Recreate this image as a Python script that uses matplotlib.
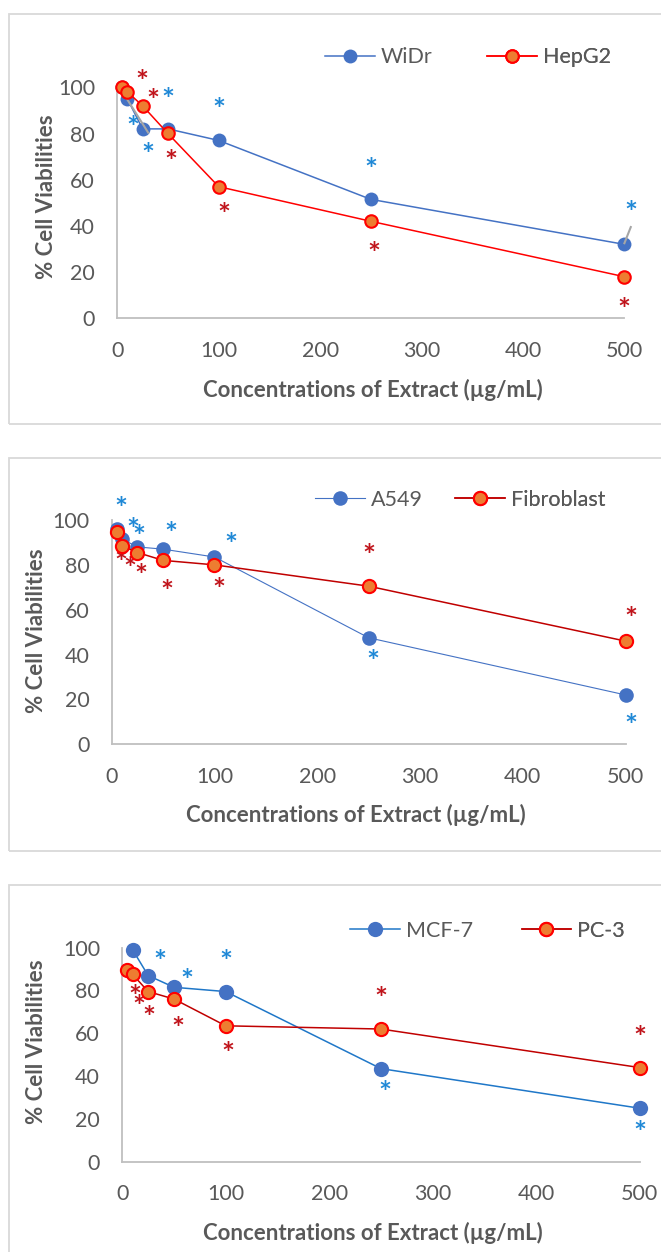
import matplotlib
matplotlib.use("Agg")
import matplotlib.pyplot as plt
import matplotlib.transforms as mtransforms
from matplotlib.patches import Rectangle

plt.rcParams['font.family'] = ['Lato', 'DejaVu Sans']

# figure size in pixels
W, H = 661, 1252

# concentrations (ug/mL)
conc = [5, 10, 25, 50, 100, 250, 500]
conc_mcf7 = [10, 25, 50, 100, 250, 500]

# % cell viabilities
widr = [100, 95, 82, 82, 77, 51.5, 32]
hepg2 = [100, 98, 92, 80, 57, 42, 18]
a549 = [96, 91.5, 88, 87, 83.5, 47.5, 22]
fibroblast = [94.5, 88.5, 85.5, 82, 80, 70.5, 46]
mcf7 = [99, 87, 81.5, 79.5, 43.5, 25]
pc3 = [89.5, 87.5, 79.5, 76, 63.5, 62, 44]

# significance stars, where they sit in data units
star1_blue_x = [15, 30.5, 50, 100, 250, 506]
star1_blue_y = [85.5, 74, 97.7, 93.3, 67.5, 49]
star1_red_x = [24, 35, 52.5, 105, 253, 500]
star1_red_y = [105.7, 97.3, 71, 48, 31.2, 7]

star2_blue_x = [9, 21, 26.5, 57.5, 116, 254.5, 505]
star2_blue_y = [108, 98.8, 95.6, 97, 92, 39.8, 11.4]
star2_red_x = [8.5, 17.8, 28.4, 53.6, 104.6, 250, 505]
star2_red_y = [84, 81.4, 78.2, 71.2, 71.9, 87.4, 59.1]

star3_blue_x = [36.6, 62.7, 100.5, 254.3, 500]
star3_blue_y = [96.6, 88, 97, 35.8, 17.1]
star3_red_x = [12, 15.8, 25.7, 53.3, 102.4, 250.2, 500]
star3_red_y = [80.2, 75.8, 70.4, 65.6, 53.7, 79.4, 61.5]

# grey leader lines seen in the first chart
leader1_x = [[10, 30.5], [500, 506.3]]
leader1_y = [[94.7, 80.4], [32.5, 39.5]]

GREY_TXT = '#595959'
BLUE_M = '#4472C4'
ORANGE_M = '#ED7D31'
RED_E = '#FF0000'
STAR_BLUE = '#1F88D6'
STAR_RED = '#C0141B'

fig = plt.figure(figsize=(W / 100, H / 100), dpi=100)


def px_axes(x0, x500, y0, y100):
    return fig.add_axes([x0 / W, 1 - y0 / H, (x500 - x0) / W, (y0 - y100) / H])


def frame_box(top, bottom):
    fig.add_artist(Rectangle((9.3 / W, 1 - bottom / H), 700 / W, (bottom - top) / H,
                             transform=fig.transFigure, fill=False,
                             ec='#D9D9D9', lw=1.3))


def stars(ax, xs, ys, color, fs=22):
    tr = mtransforms.offset_copy(ax.transData, fig=fig, y=-0.57 * fs, units='points')
    for x, y in zip(xs, ys):
        ax.text(x, y, '*', color=color, fontsize=fs, fontweight='bold',
                ha='center', va='baseline', transform=tr, clip_on=False)


def style(ax, xlab_xy, ylab_xy):
    ax.set_xlim(0, 500)
    ax.set_ylim(0, 100)
    ax.set_xticks([0, 100, 200, 300, 400, 500])
    ax.set_yticks([0, 20, 40, 60, 80, 100])
    for s in ['top', 'right']:
        ax.spines[s].set_visible(False)
    for s in ['left', 'bottom']:
        ax.spines[s].set_color('#BFBFBF')
        ax.spines[s].set_linewidth(1.3)
    ax.tick_params(length=0, labelsize=15.5, labelcolor=GREY_TXT)
    ax.tick_params(axis='y', pad=16)
    ax.tick_params(axis='x', pad=16)
    ax.set_xlabel('Concentrations of Extract (µg/mL)', fontsize=16,
                  fontweight='bold', color=GREY_TXT)
    ax.set_ylabel('% Cell Viabilities', fontsize=16, fontweight='bold', color=GREY_TXT)
    ax.xaxis.set_label_coords(*xlab_xy)
    ax.yaxis.set_label_coords(*ylab_xy)


def legends(ax, handles, labels, spots):
    for h, lab, (x, y) in zip(handles, labels, spots):
        lg = ax.legend([h], [lab], loc='center left',
                       bbox_to_anchor=(x / W, 1 - y / H), bbox_transform=fig.transFigure,
                       frameon=False, borderpad=0, borderaxespad=0, fontsize=15.5,
                       handlelength=2.3, handletextpad=0.3, labelcolor=GREY_TXT)
        ax.add_artist(lg)


# ---- chart 1: WiDr / HepG2
frame_box(14, 424.3)
ax1 = px_axes(117.2, 624.4, 318.3, 87.3)
for lx, ly in zip(leader1_x, leader1_y):
    ax1.plot(lx, ly, color='#A6A6A6', lw=1.5, zorder=4, clip_on=False)
l1, = ax1.plot(conc, widr, color=BLUE_M, lw=1.1, marker='o', ms=10,
               mfc=BLUE_M, mec=BLUE_M, mew=0, clip_on=False, zorder=3)
l2, = ax1.plot(conc, hepg2, color=RED_E, lw=1.1, marker='o', ms=9,
               mfc=ORANGE_M, mec=RED_E, mew=1.5, clip_on=False, zorder=5)
stars(ax1, star1_blue_x, star1_blue_y, STAR_BLUE)
stars(ax1, star1_red_x, star1_red_y, STAR_RED)
style(ax1, (0.505, -0.262), (-0.119, 0.525))
legends(ax1, [l1, l2], ['WiDr', 'HepG2'], [(325, 57.3), (487, 57.3)])

# ---- chart 2: A549 / Fibroblast
frame_box(457.7, 851)
ax2 = px_axes(111.7, 625.6, 744.3, 520)
l3, = ax2.plot(conc, a549, color=BLUE_M, lw=0.8, marker='o', ms=10.5,
               mfc=BLUE_M, mec=BLUE_M, mew=0, clip_on=False, zorder=3)
l4, = ax2.plot(conc, fibroblast, color='#C00000', lw=1.1, marker='o', ms=9.5,
               mfc=ORANGE_M, mec=RED_E, mew=1.5, clip_on=False, zorder=5)
stars(ax2, star2_blue_x, star2_blue_y, STAR_BLUE)
stars(ax2, star2_red_x, star2_red_y, STAR_RED)
style(ax2, (0.475, -0.266), (-0.126, 0.505))
legends(ax2, [l3, l4], ['A549', 'Fibroblast'], [(315, 500), (455, 500)])

# ---- chart 3: MCF-7 / PC-3
frame_box(885, 1270)
ax3 = px_axes(122.3, 639.5, 1161.7, 947.7)
l5, = ax3.plot(conc_mcf7, mcf7, color='#1F77C8', lw=1.1, marker='o', ms=11,
               mfc=BLUE_M, mec=BLUE_M, mew=0, clip_on=False, zorder=3)
l6, = ax3.plot(conc, pc3, color='#C00000', lw=1.1, marker='o', ms=9.5,
               mfc=ORANGE_M, mec=RED_E, mew=1.5, clip_on=False, zorder=5)
stars(ax3, star3_blue_x, star3_blue_y, STAR_BLUE)
stars(ax3, star3_red_x, star3_red_y, STAR_RED)
style(ax3, (0.484, -0.283), (-0.146, 0.559))
legends(ax3, [l5, l6], ['MCF-7', 'PC-3'], [(350, 931), (521.5, 931)])

fig.savefig('out.png', dpi=100)
